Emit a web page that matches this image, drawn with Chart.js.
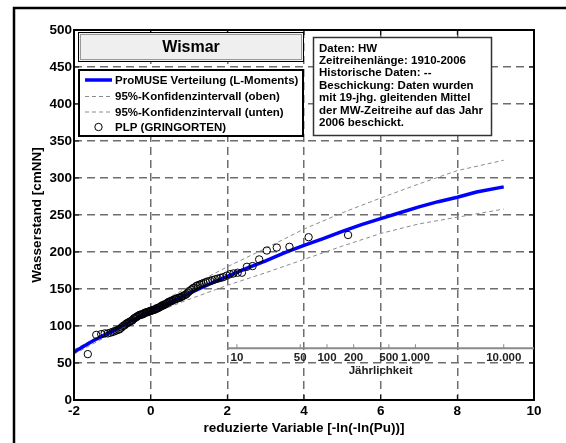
<!DOCTYPE html>
<html>
<head>
<meta charset="utf-8">
<script src="https://cdn.jsdelivr.net/npm/chart.js@4.4.0/dist/chart.umd.min.js"></script>
<style>
  html, body { margin: 0; padding: 0; background: #fff; }
</style>
</head>
<body>
<canvas id="gumbelChart" width="566" height="443"></canvas>
<script>
// Station and annotation texts
const station = 'Wismar';
const seriesNames = [
    'ProMUSE Verteilung (L-Moments)',
    '95%-Konfidenzintervall (oben)',
    '95%-Konfidenzintervall (unten)',
    'PLP (GRINGORTEN)'
];
const infoLines = [
    'Daten: HW',
    'Zeitreihenlänge: 1910-2006',
    'Historische Daten: --',
    'Beschickung: Daten wurden',
    'mit 19-jhg. gleitenden Mittel',
    'der MW-Zeitreihe auf das Jahr',
    '2006 beschickt.'
];

// Axis ticks
const xTicks = [-2, 0, 2, 4, 6, 8, 10];
const yTicks = [0, 50, 100, 150, 200, 250, 300, 350, 400, 450, 500];
const returnPeriods = [10, 50, 100, 200, 500, 1000, 10000];
const returnLabels = ['10', '50', '100', '200', '500', '1.000', '10.000'];

// Fitted distribution
const fitX = [-2, -1.5, -1, -0.5, 0, 0.5, 1, 1.5, 2, 2.5, 3, 3.5, 4, 4.5, 5, 5.5, 6, 6.5, 7, 7.5, 8, 8.5, 9.21];
const fitY = [65, 80, 93, 107, 120, 132, 144, 156, 167, 178, 188, 199, 209, 218, 228, 237, 245, 253, 261, 268, 274, 281, 288];

// 95% confidence band
const ciX = [-2, -1, 0, 1, 2, 3, 4, 5, 6, 7, 8, 9.21];
const ciUpper = [68, 96, 125, 153, 180, 205, 231, 253, 273, 292, 310, 324];
const ciLower = [62, 90, 116, 136, 155, 172, 190, 208, 225, 238, 247, 258];

// Annual maxima at their plotting positions
const plpX = [
    -1.64, -1.42, -1.29, -1.20, -1.12, -1.05, -0.99, -0.94, -0.89, -0.84,
    -0.80, -0.76, -0.72, -0.68, -0.64, -0.61, -0.57, -0.54, -0.50, -0.47,
    -0.44, -0.41, -0.38, -0.35, -0.32, -0.29, -0.26, -0.23, -0.20, -0.17,
    -0.15, -0.12, -0.09, -0.06, -0.03, -0.01, 0.02, 0.05, 0.08, 0.11,
    0.14, 0.16, 0.19, 0.22, 0.25, 0.28, 0.31, 0.34, 0.37, 0.40,
    0.43, 0.46, 0.49, 0.52, 0.55, 0.58, 0.62, 0.65, 0.68, 0.72,
    0.75, 0.79, 0.82, 0.86, 0.90, 0.93, 0.97, 1.01, 1.06, 1.10,
    1.14, 1.19, 1.23, 1.28, 1.33, 1.38, 1.44, 1.49, 1.55, 1.61,
    1.68, 1.75, 1.82, 1.89, 1.98, 2.07, 2.16, 2.27, 2.38, 2.51,
    2.66, 2.83, 3.03, 3.29, 3.62, 4.12, 5.15
];
const plpY = [
    62, 88, 89, 90, 90, 91, 92, 93, 94, 95,
    96, 98, 100, 101, 103, 104, 105, 106, 107, 108,
    110, 111, 112, 113, 114, 115, 115, 116, 116, 117,
    118, 118, 119, 119, 120, 120, 121, 121, 122, 122,
    123, 124, 124, 125, 126, 127, 128, 128, 129, 130,
    131, 132, 133, 133, 134, 135, 136, 136, 137, 138,
    138, 139, 140, 141, 142, 143, 145, 147, 149, 151,
    152, 154, 155, 156, 157, 158, 159, 160, 161, 162,
    163, 164, 165, 166, 168, 170, 171, 172, 172, 180,
    181, 190, 202, 206, 207, 220, 223
];

const FONT = '"Liberation Sans", Arial, Helvetica, sans-serif';
const pts = (xs, ys) => xs.map((v, i) => ({ x: v, y: ys[i] }));

function line(ctx, x0, y0, x1, y1) {
    ctx.beginPath();
    ctx.moveTo(x0, y0);
    ctx.lineTo(x1, y1);
    ctx.stroke();
}

// Box, inner ticks, return period axis, title, legend and info panel
const decorations = {
    id: 'decorations',
    afterDraw(chart) {
        const { ctx, chartArea: a, scales: { x, y } } = chart;
        ctx.save();

        // figure frame
        ctx.strokeStyle = '#000';
        ctx.lineWidth = 2.5;
        ctx.beginPath();
        ctx.moveTo(14, 443);
        ctx.lineTo(14, 8);
        ctx.lineTo(566, 8);
        ctx.stroke();

        // axes box with inward ticks
        ctx.lineWidth = 2;
        ctx.strokeRect(a.left, a.top, a.width, a.height);
        ctx.lineWidth = 1;
        xTicks.forEach(v => {
            const px = x.getPixelForValue(v);
            line(ctx, px, a.bottom, px, a.bottom - 5);
            line(ctx, px, a.top, px, a.top + 5);
        });
        yTicks.forEach(v => {
            const py = y.getPixelForValue(v);
            line(ctx, a.left, py, a.left + 5, py);
            line(ctx, a.right, py, a.right - 5, py);
        });

        // return period axis (Gumbel reduced variate of each period)
        const ay = y.getPixelForValue(70);
        const rx0 = x.getPixelForValue(2), rx1 = x.getPixelForValue(10);
        ctx.strokeStyle = '#8a8a8a';
        ctx.lineWidth = 2;
        line(ctx, rx0, ay, rx1, ay);
        ctx.lineWidth = 1;
        ctx.fillStyle = '#222';
        ctx.font = 'bold 11.5px ' + FONT;
        ctx.textAlign = 'center';
        ctx.textBaseline = 'top';
        returnPeriods.forEach((T, i) => {
            const px = x.getPixelForValue(-Math.log(-Math.log(1 - 1 / T)));
            line(ctx, px, ay, px, ay - 4);
            ctx.fillText(returnLabels[i], px, ay + 4);
        });
        ctx.textBaseline = 'middle';
        ctx.fillText('Jährlichkeit', (rx0 + rx1) / 2, ay + 23);

        // station title
        ctx.fillStyle = '#efefef';
        ctx.fillRect(78, 32, 226, 30);
        ctx.strokeStyle = '#000';
        ctx.lineWidth = 1;
        ctx.strokeRect(78.5, 32.5, 225, 29);
        ctx.strokeStyle = '#9a9a9a';
        ctx.strokeRect(80.5, 34.5, 221, 25);
        ctx.fillStyle = '#000';
        ctx.font = 'bold 16px ' + FONT;
        ctx.fillText(station, 191, 48);

        // legend
        ctx.fillStyle = '#fff';
        ctx.fillRect(78, 69, 225, 67);
        ctx.strokeStyle = '#000';
        ctx.lineWidth = 2;
        ctx.strokeRect(79, 70, 224, 66);
        const rows = [80, 96.5, 112, 127];
        const order = [1, 2, 3, 0];
        ctx.font = 'bold 11.5px ' + FONT;
        ctx.textAlign = 'left';
        order.forEach((di, r) => {
            const ds = chart.data.datasets[di];
            const ry = rows[r];
            if (ds.showLine) {
                ctx.strokeStyle = ds.borderColor;
                ctx.lineWidth = ds.borderWidth;
                ctx.setLineDash(ds.borderDash || []);
                line(ctx, 85, ry, 112, ry);
                ctx.setLineDash([]);
            } else {
                ctx.strokeStyle = ds.pointBorderColor;
                ctx.lineWidth = ds.pointBorderWidth;
                ctx.beginPath();
                ctx.arc(98.5, ry, ds.pointRadius, 0, Math.PI * 2);
                ctx.stroke();
            }
            ctx.fillStyle = '#000';
            ctx.fillText(ds.label, 115, ry + 0.5);
        });

        // data notes
        ctx.fillStyle = '#fff';
        ctx.fillRect(313, 37, 179, 99);
        ctx.strokeStyle = '#333';
        ctx.lineWidth = 1.5;
        ctx.strokeRect(313.5, 37.5, 178, 98);
        ctx.fillStyle = '#000';
        ctx.font = 'bold 11.5px ' + FONT;
        infoLines.forEach((t, i) => ctx.fillText(t, 319, 48.5 + i * 12.4));

        ctx.restore();
    }
};

const tickFont = { family: FONT, size: 13.5, weight: 'bold' };

new Chart(document.getElementById('gumbelChart'), {
    type: 'scatter',
    data: {
        datasets: [
            {
                label: seriesNames[3],
                data: pts(plpX, plpY),
                showLine: false,
                pointStyle: 'circle',
                pointRadius: 3.7,
                pointBorderWidth: 1,
                pointBorderColor: '#000',
                pointBackgroundColor: 'rgba(0,0,0,0)',
                order: 0
            },
            {
                label: seriesNames[0],
                data: pts(fitX, fitY),
                showLine: true,
                borderColor: '#0000ff',
                borderWidth: 3.5,
                pointRadius: 0,
                order: 1
            },
            {
                label: seriesNames[1],
                data: pts(ciX, ciUpper),
                showLine: true,
                borderColor: '#8c8c8c',
                borderWidth: 1,
                borderDash: [4, 3],
                pointRadius: 0,
                order: 2
            },
            {
                label: seriesNames[2],
                data: pts(ciX, ciLower),
                showLine: true,
                borderColor: '#8c8c8c',
                borderWidth: 1,
                borderDash: [4, 3],
                pointRadius: 0,
                order: 2
            }
        ]
    },
    options: {
        responsive: false,
        animation: false,
        devicePixelRatio: 1,
        layout: { padding: { left: 0, right: 32, top: 30, bottom: 0 } },
        plugins: { legend: { display: false }, tooltip: { enabled: false } },
        scales: {
            x: {
                type: 'linear',
                min: -2,
                max: 10,
                afterBuildTicks: s => { s.ticks = xTicks.map(v => ({ value: v })); },
                afterFit: s => { s.height = 43; },
                grid: { color: '#6e6e6e', lineWidth: 1.5, drawTicks: false },
                border: { display: false, dash: [8, 5] },
                ticks: { color: '#000', font: tickFont, padding: 3, maxRotation: 0, autoSkip: false },
                title: {
                    display: true,
                    text: 'reduzierte Variable [-ln(-ln(Pu))]',
                    color: '#000',
                    font: tickFont,
                    padding: { top: 0, bottom: 7 }
                }
            },
            y: {
                type: 'linear',
                min: 0,
                max: 500,
                afterBuildTicks: s => { s.ticks = yTicks.map(v => ({ value: v })); },
                afterFit: s => { s.width = 74; },
                grid: { color: '#6e6e6e', lineWidth: 1.5, drawTicks: false },
                border: { display: false, dash: [8, 5] },
                ticks: { color: '#000', font: tickFont, padding: 2, autoSkip: false },
                title: {
                    display: true,
                    text: 'Wasserstand [cmNN]',
                    color: '#000',
                    font: tickFont,
                    padding: { top: 29, bottom: 0 }
                }
            }
        }
    },
    plugins: [decorations]
});
</script>
</body>
</html>
